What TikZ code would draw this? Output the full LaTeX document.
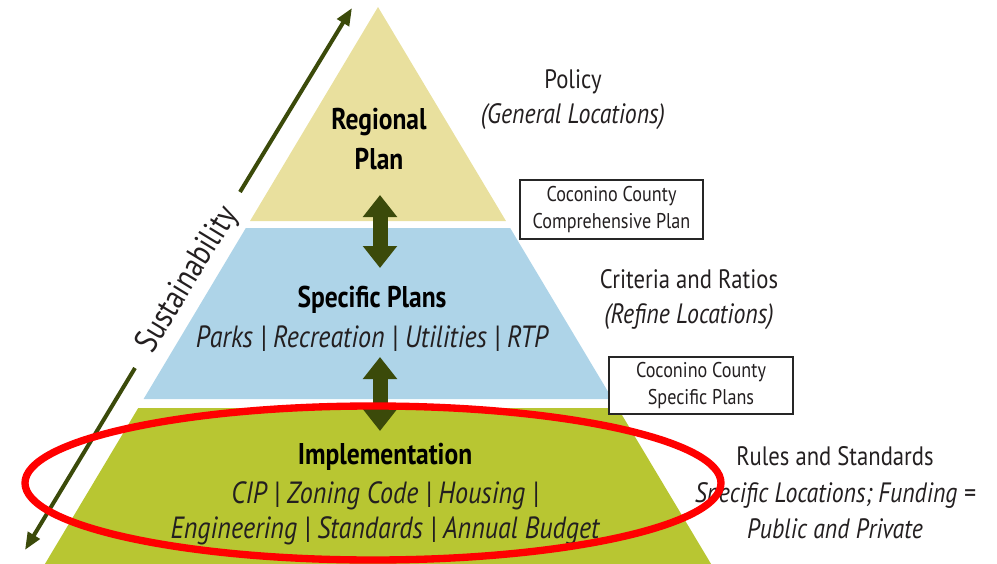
\documentclass[tikz,border=0pt]{standalone}
\usepackage{fontspec}
\setmainfont[FakeStretch=0.85]{PT Sans}
\usetikzlibrary{arrows.meta}
\definecolor{regionalColor}{RGB}{233,224,158}
\definecolor{specificColor}{RGB}{174,212,232}
\definecolor{implementationColor}{RGB}{184,198,50}
\definecolor{arrowColor}{RGB}{59,74,10}
\definecolor{textColor}{RGB}{35,31,32}
\definecolor{ringColor}{RGB}{255,0,0}
\tikzstyle{pyramid} = [x = .75pt, y = -.75pt]
\tikzstyle{levelTitle} = [font=\fontsize{22.5}{30}\selectfont\bfseries, align=center, text=black, inner sep=0pt]
\tikzstyle{levelItems} = [font=\fontsize{23}{26}\selectfont\itshape, text=textColor, inner sep=0pt]
\tikzstyle{sideText} = [font=\fontsize{20}{26}\selectfont, text=textColor, inner sep=0pt]
\tikzstyle{sideItalic} = [font=\fontsize{21}{26}\selectfont\itshape, text=textColor, inner sep=0pt]
\tikzstyle{countyBox} = [draw=black!85, line width=1pt, fill=white, font=\fontsize{16}{20}\selectfont, align=center, text=textColor, inner sep=0pt]
\tikzstyle{levelLink} = [arrowColor, line width=11.25pt, {Triangle[length=16.5pt, width=24.75pt]}-{Triangle[length=16.5pt, width=24.75pt]}]
\tikzstyle{trendArrow} = [arrowColor, line width=3pt, -{Triangle[length=13pt, width=10pt]}]
\tikzstyle{ring} = [draw=ringColor, line width=5.5pt]
\newcommand{\apexX}{378}
\newcommand{\apexY}{7}
\newcommand{\slope}{0.598}
\newcommand{\band}[3]{\fill [#1] ({\apexX - (#2 - \apexY) * \slope}, #2) -- ({\apexX + (#2 - \apexY) * \slope}, #2) -- ({\apexX + (#3 - \apexY) * \slope}, #3) -- ({\apexX - (#3 - \apexY) * \slope}, #3) -- cycle;}
\begin{document}
\begin{tikzpicture}[pyramid]
\useasboundingbox (0,0) rectangle (997,564);
\band{regionalColor}{7}{221}\band{specificColor}{228}{399}\band{implementationColor}{408}{570}
\node [levelTitle] (regional) at (379,139) {Regional\\Plan};
\node [levelTitle, anchor=base] (specific) at (372,307) {Specific Plans};
\node [levelItems, anchor=base] (specificItems) at (372,347) {Parks | Recreation | Utilities | RTP};
\node [levelTitle, anchor=base] (implementation) at (385,464) {Implementation};
\node [levelItems, anchor=base] (implementationItems) at (385,503) {CIP | Zoning Code | Housing |};
\node [levelItems, anchor=base] (implementationItemsB) at (385,538) {Engineering | Standards | Annual Budget};
\coordinate (linkA) at (380,195); \coordinate (linkB) at (380,268);
\coordinate (linkC) at (380,357); \coordinate (linkD) at (380,431);
\draw [levelLink] (linkA) -- (linkB);
\draw [levelLink] (linkC) -- (linkD);
\node [sideText, anchor=base] (policy) at (573,88) {Policy};
\node [sideItalic, anchor=base] (generalLoc) at (573,123) {(General Locations)};
\node [countyBox, minimum width=137.25pt, minimum height=44.25pt] (comprehensive) at (611.5,209.5) {Coconino County\\Comprehensive Plan};
\node [sideText, anchor=base] (criteria) at (689,288) {Criteria and Ratios};
\node [sideItalic, anchor=base] (refineLoc) at (689,323) {(Refine Locations)};
\node [countyBox, minimum width=138pt, minimum height=42.75pt] (countyPlans) at (701,385.5) {Coconino County\\Specific Plans};
\node [sideText, anchor=base] (rules) at (835,465) {Rules and Standards};
\node [sideItalic, anchor=base] (specificLoc) at (835,502) {Specific Locations; Funding =};
\node [sideItalic, anchor=base] (publicPrivate) at (835,538) {Public and Private};
\node [sideText, rotate=58.7, font=\fontsize{25}{30}\selectfont] (sustainability) at (188,280) {Sustainability};
\coordinate (trendUp) at (240,192); \coordinate (trendTop) at (352,8);
\coordinate (trendDown) at (135,368); \coordinate (trendBottom) at (25,550);
\draw [trendArrow] (trendUp) -- (trendTop);
\draw [trendArrow] (trendDown) -- (trendBottom);
\draw [ring] (373,483) ellipse [x radius=348, y radius=77];
\end{tikzpicture}
\end{document}
